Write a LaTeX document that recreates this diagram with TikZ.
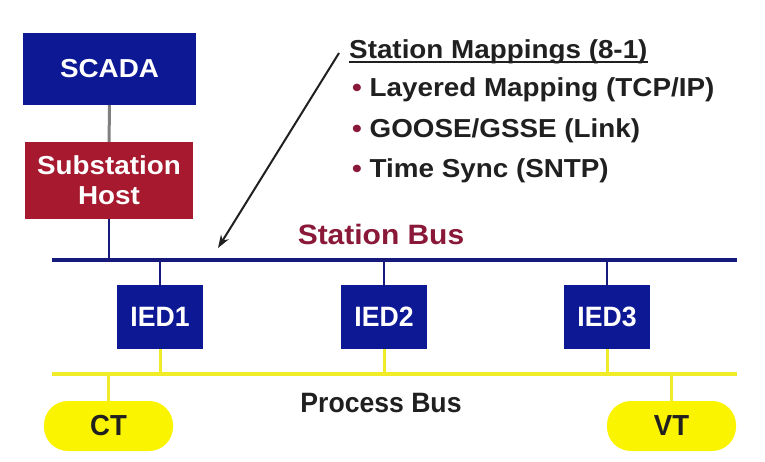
\documentclass[tikz,border=0pt]{standalone}
\usepackage{fontspec}
\setmainfont{Liberation Sans}[FakeStretch=1.07]
\newfontfamily\narrowfont{Liberation Sans}[FakeStretch=0.95]
\usetikzlibrary{arrows.meta}

\definecolor{boxblue}{RGB}{12,24,148}
\definecolor{busblue}{RGB}{22,26,125}
\definecolor{hostred}{RGB}{166,25,46}
\definecolor{busred}{RGB}{138,24,56}
\definecolor{padyellow}{RGB}{250,244,0}
\definecolor{lineyellow}{RGB}{240,236,40}
\definecolor{inkgray}{RGB}{32,32,32}

\tikzset{
  bigtext/.style={font=\fontsize{26}{30}\selectfont\bfseries},
  unitbox/.style={draw=none,fill=boxblue,text=white,inner sep=0pt,bigtext},
  iedbox/.style={unitbox,minimum width=86pt,minimum height=64pt,
    font=\narrowfont\fontsize{28}{30}\selectfont\bfseries},
  padpill/.style={fill=padyellow,rounded corners=24pt,inner sep=0pt,
    minimum width=129pt,minimum height=50pt,text=inkgray,
    font=\narrowfont\fontsize{29}{30}\selectfont\bfseries},
  stationbus/.style={busblue,line width=3.5pt},
  stationtap/.style={busblue,line width=2.6pt},
  processbus/.style={lineyellow,line width=3.5pt},
  processtap/.style={lineyellow,line width=3pt},
  listline/.style={anchor=base west,inner sep=0pt,text=inkgray,bigtext}
}

\begin{document}
\begin{tikzpicture}[x=1pt,y=-1pt]
  \useasboundingbox[fill=white] (0,0) rectangle (765,462);

  \node[unitbox,minimum width=173pt,minimum height=72pt] (scada) at (109.5,69) {SCADA};
  \node[unitbox,fill=hostred,minimum width=168pt,minimum height=77pt,align=center] (host) at (109,180.5)
    {Substation\\Host};

  \coordinate (sbL) at (52,260);
  \coordinate (sbR) at (737,260);
  \coordinate (pbL) at (52,374);
  \coordinate (pbR) at (737,374);

  \node[iedbox] (ied1) at (160,317) {IED1};
  \node[iedbox] (ied2) at (384,317) {IED2};
  \node[iedbox] (ied3) at (607,317) {IED3};

  \node[padpill] (ct) at (108.5,426) {CT};
  \node[padpill] (vt) at (671.5,426) {VT};

  \draw[gray,line width=3pt] (scada) -- (host);
  \draw[stationtap] (host.south) -- (host.south |- sbL);
  \draw[stationbus] (sbL) -- (sbR);
  \draw[processbus] (pbL) -- (pbR);
  \foreach \n in {ied1,ied2,ied3} {
    \draw[stationtap] (\n.north) -- (\n.north |- sbL);
    \draw[processtap] (\n.south) -- (\n.south |- pbL);
  }
  \draw[processtap] (ct.north) -- (ct.north |- pbL);
  \draw[processtap] (vt.north) -- (vt.north |- pbL);

  \node[anchor=base,inner sep=0pt,text=busred,font=\fontsize{28}{30}\selectfont\bfseries] (sbname) at (381,244) {Station Bus};
  \node[anchor=base,inner sep=0pt,text=inkgray,font=\narrowfont\fontsize{28}{30}\selectfont\bfseries] (pbname) at (381,412) {Process Bus};

  \node[listline] (maphead) at (349,59) {Station Mappings (8-1)};
  \draw[inkgray,line width=1.5pt] ([yshift=-3pt]maphead.base west) -- ([yshift=-3pt]maphead.base east);
  \node[listline] (map1) at (352,97) {\textcolor{busred}{•} Layered Mapping (TCP/IP)};
  \node[listline] (map2) at (352,138) {\textcolor{busred}{•} GOOSE/GSSE (Link)};
  \node[listline] (map3) at (352,178) {\textcolor{busred}{•} Time Sync (SNTP)};

  \coordinate (maptail) at (339,53);
  \coordinate (maptip) at (218,248);
  \draw[inkgray,line width=2pt,-{Stealth[length=13pt,width=9pt]}] (maptail) -- (maptip);
\end{tikzpicture}
\end{document}
